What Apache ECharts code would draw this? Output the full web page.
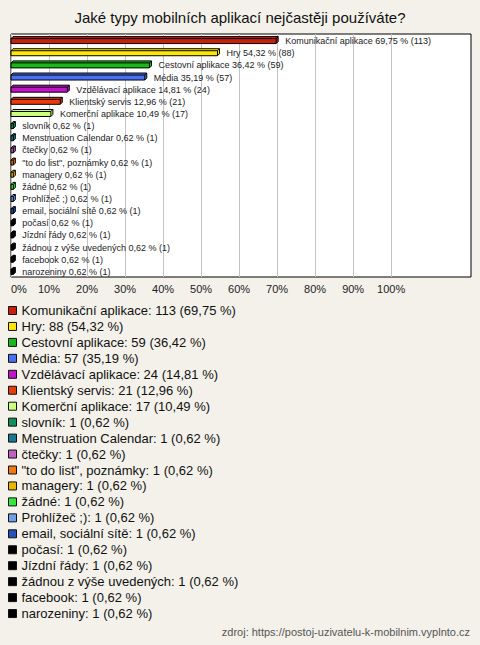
<!DOCTYPE html>
<html>
<head>
<meta charset="utf-8">
<script src="https://cdn.jsdelivr.net/npm/echarts@6/dist/echarts.min.js"></script>
<style>
html,body{margin:0;padding:0;background:#f3f1ea;}
#wrap{width:480px;height:645px;box-sizing:border-box;border:1px solid #333;border-right:2px solid #222;border-bottom:2px solid #222;position:relative;background:#f3f1ea;}
#chart{position:absolute;left:-1px;top:-1px;width:480px;height:645px;}
</style>
</head>
<body>
<div id="wrap"><div id="chart"></div></div>
<script>
const titleText = 'Jaké typy mobilních aplikací nejčastěji používáte?';
const sourceText = 'zdroj: https://postoj-uzivatelu-k-mobilnim.vyplnto.cz';
const categories = ['Komunikační aplikace','Hry','Cestovní aplikace','Média','Vzdělávací aplikace','Klientský servis','Komerční aplikace','slovník','Menstruation Calendar','čtečky','"to do list", poznámky','managery','žádné','Prohlížeč ;)','email, sociální sítě','počasí','Jízdní řády','žádnou z výše uvedených','facebook','narozeniny'];
const counts = [113,88,59,57,24,21,17,1,1,1,1,1,1,1,1,1,1,1,1,1];
const percents = [69.75,54.32,36.42,35.19,14.81,12.96,10.49,0.62,0.62,0.62,0.62,0.62,0.62,0.62,0.62,0.62,0.62,0.62,0.62,0.62];
const colors = ['#c81e0a','#ffe600','#18b818','#4a6ff0','#c015c8','#e83c0a','#ccff80','#109058','#1a7890','#c060c0','#f07810','#e8b800','#38e838','#6ea0e8','#2850b8','#000000','#000000','#000000','#000000','#000000'];
const xTicks = [0,10,20,30,40,50,60,70,80,90,100];

const FONT = '"Liberation Sans", Arial, sans-serif';
const fmt = v => v.toFixed(2).replace('.', ',');

const chart = echarts.init(document.getElementById('chart'), null, {renderer:'svg'});

function renderItem(params, api) {
  const i = api.value(1);
  const p1 = api.coord([api.value(0), i]);
  const p0 = api.coord([0, i]);
  const d = 2, h = 5;
  const x0 = p0[0], x1 = p1[0];
  const yb = p1[1] + 3.5, yt = yb - h;
  const color = api.visual('color');
  const idx = params.seriesIndex;
  const label = categories[idx] + ' ' + fmt(percents[idx]) + ' % (' + counts[idx] + ')';
  return {
    type: 'group',
    children: [
      {type:'polygon', shape:{points:[[x0,yt],[x0+d,yt-d],[x1+d,yt-d],[x1+d,yb-d],[x1,yb],[x0,yb]]},
       style:{fill:color, stroke:'#000', lineWidth:1}},
      {type:'polyline', shape:{points:[[x0,yt],[x1,yt],[x1+d,yt-d]]}, style:{stroke:'#000', fill:null, lineWidth:1}},
      {type:'line', shape:{x1:x1,y1:yt,x2:x1,y2:yb}, style:{stroke:'#000', lineWidth:1}},
      {type:'text', style:{text:label, x:x1+9, y:p1[1]+1, verticalAlign:'middle', align:'left',
        fontSize:9, fill:'#222', fontFamily:FONT}}
    ]
  };
}

const legendNames = categories.map((c,i) => c + ': ' + counts[i] + ' (' + fmt(percents[i]) + ' %)');

const series = categories.map((c,i) => ({
  type: 'custom',
  name: legendNames[i],
  renderItem: renderItem,
  itemStyle: {color: colors[i], borderColor:'#000', borderWidth:1},
  encode: {x: 0, y: 1},
  clip: false,
  data: [[percents[i], i, counts[i]]]
}));

const gridColors = xTicks.map(() => '#c4c4c4').concat(['rgba(0,0,0,0)','rgba(0,0,0,0)','rgba(0,0,0,0)','rgba(0,0,0,0)','rgba(0,0,0,0)']);

chart.setOption({
  backgroundColor: '#f3f1ea',
  animation: false,
  title: [
    {text: titleText, left: 'center', top: 10, padding: 0,
     textStyle: {fontSize: 15, fontWeight: 'normal', color: '#111', fontFamily: FONT}},
    {text: sourceText, right: 10, top: 626, padding: 0,
     textStyle: {fontSize: 11, fontWeight: 'normal', color: '#555', fontFamily: FONT}}
  ],
  grid: {left: 11, top: 34, right: 9, bottom: 368, show: true, backgroundColor: '#fff',
         borderColor: '#000', borderWidth: 1, containLabel: false},
  xAxis: {
    type: 'value', min: 0, max: 121, interval: 10,
    axisLine: {show: false}, axisTick: {show: false},
    splitLine: {show: true, lineStyle: {color: gridColors, width: 1}},
    axisLabel: {fontSize: 11, color: '#222', fontFamily: FONT, margin: 6, alignMinLabel: 'left',
      formatter: v => (xTicks.indexOf(v) >= 0 ? v + '%' : '')}
  },
  yAxis: {
    type: 'category', data: categories, inverse: true,
    axisLine: {show: false}, axisTick: {show: false}, axisLabel: {show: false}, splitLine: {show: false}
  },
  legend: {
    orient: 'vertical', left: 8, top: 304, padding: 0,
    itemWidth: 8, itemHeight: 8, itemGap: 2.95, icon: 'rect',
    itemStyle: {borderColor: '#111', borderWidth: 1},
    textStyle: {fontSize: 13, lineHeight: 13, color: '#111', fontFamily: FONT},
    selectedMode: false,
    data: legendNames
  },
  series: series
});
</script>
</body>
</html>
